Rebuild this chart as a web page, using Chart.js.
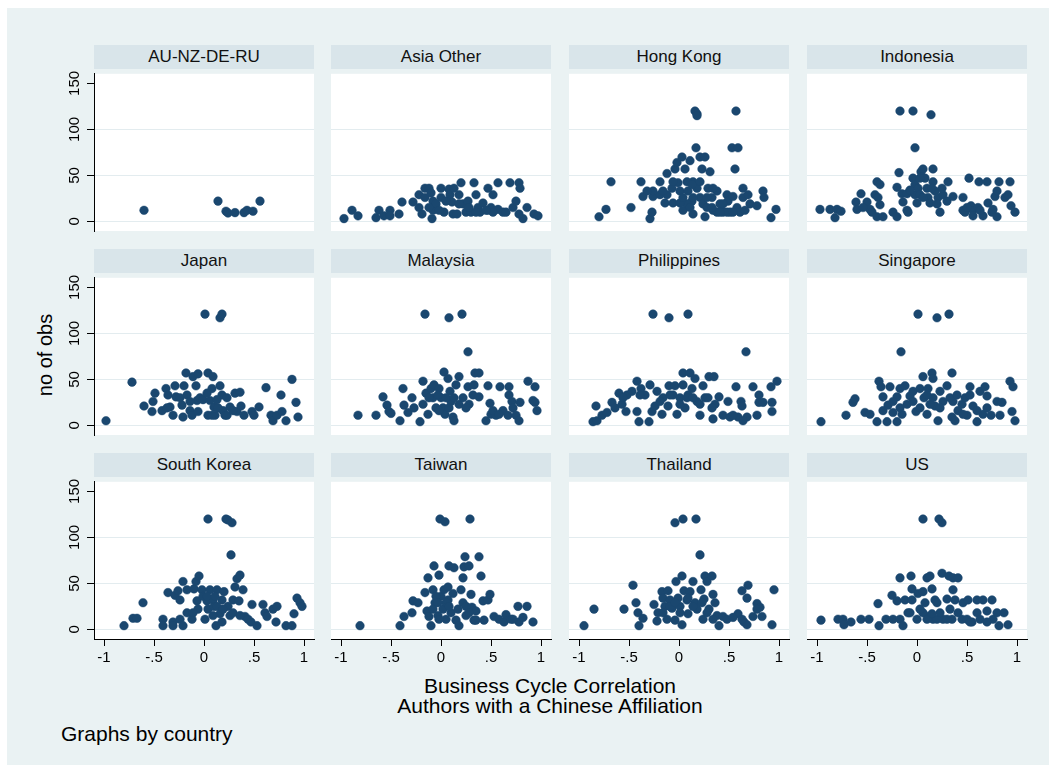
<!DOCTYPE html>
<html>
<head>
<meta charset="utf-8">
<script src="https://cdn.jsdelivr.net/npm/chart.js@4.4.1/dist/chart.umd.min.js"></script>
<style>
    body { margin: 0; width: 1056px; height: 771px; background: #fff; position: relative; overflow: hidden;
           font-family: "Liberation Sans", Arial, sans-serif; color: #000; }
    #frame { position: absolute; left: 7px; top: 8px; width: 1042px; height: 757px; background: #eaf2f3; }
    .strip { position: absolute; height: 24px; line-height: 24px; background: #d9e5ea; text-align: center;
             font-size: 17px; color: #111; }
    canvas { position: absolute; }
    .lbl { position: absolute; white-space: nowrap; font-size: 21px; }
</style>
</head>
<body>
<div id="frame"></div>
<div class="lbl" style="left:0;width:1100px;top:676px;text-align:center;line-height:20px">Business Cycle Correlation<br>Authors with a Chinese Affiliation</div>
<div class="lbl" style="left:61px;top:722px">Graphs by country</div>
<div class="lbl" style="left:45px;top:355px;font-size:20px;transform:translate(-50%,-50%) rotate(-90deg)">no of obs</div>
<script>
// tick values
const xTicks = [-1, -0.5, 0, 0.5, 1];
const yTicks = [0, 50, 100, 150];

const countries = ['AU-NZ-DE-RU', 'Asia Other', 'Hong Kong', 'Indonesia',
                   'Japan', 'Malaysia', 'Philippines', 'Singapore',
                   'South Korea', 'Taiwan', 'Thailand', 'US'];

// [correlation, no of obs] per country
const auNzDeRu = [[-0.60,12],[0.14,22],[0.22,11],[0.24,9],[0.31,9.5],[0.40,9.5],[0.43,12],[0.49,11],[0.56,22]];

const asiaOther = [[-0.97,3],[-0.89,12],[-0.83,6],[-0.65,4],[-0.62,12],[-0.57,6],[-0.51,12],[-0.51,6],[-0.42,8],
    [-0.39,21],[-0.28,21],[-0.22,29],[-0.22,15],[-0.19,8],[-0.16,36],[-0.16,26],[-0.12,36],[-0.10,31],[-0.08,22],
    [-0.08,12],[-0.09,3],[-0.05,19],[0,36],[0,26],[0.03,10],[0.08,35],[0.09,29],[0.11,21],[0.12,8],[0.13,36],
    [0.16,8],[0.18,29],[0.20,42],[0.22,19],[0.25,10],[0.27,22],[0.30,10],[0.33,42],[0.35,29],[0.37,15],[0.39,10],
    [0.42,20],[0.47,36],[0.47,12],[0.50,15],[0.52,29],[0.57,42],[0.57,13],[0.62,10],[0.69,42],[0.72,15],[0.75,22],
    [0.78,42],[0.79,36],[0.82,3],[0.86,15],[0.93,8],[0.97,6],[0.28,15],[0.35,10],[0.52,10],[0.65,10],[0.78,8],
    [-0.02,12],[-0.12,15],[0.18,19],[0.05,22],[0.45,12]];

const hongKong = [[-0.80,5],[-0.73,13],[-0.68,43],[-0.48,15],[-0.38,43],[-0.36,27],[-0.29,3],[-0.27,10],[-0.26,27],
    [-0.19,43],[-0.19,29],[-0.14,20],[-0.12,52],[-0.07,36],[-0.06,20],[-0.04,57],[-0.02,64],[-0.01,42],[0.01,33],
    [0.03,70],[0.04,12],[0.06,57],[0.09,33],[0.11,66],[0.13,22],[0.14,8],[0.16,120],[0.18,117],[0.18,115],[0.17,80],
    [0.21,70],[0.26,70],[0.23,57],[0.14,43],[0.18,36],[0.21,26],[0.24,19],[0.26,5],[0.29,36],[0.31,54],[0.33,26],
    [0.34,12],[0.38,33],[0.41,19],[0.44,10],[0.48,29],[0.49,22],[0.54,27],[0.56,57],[0.57,120],[0.53,80],[0.59,80],
    [0.58,15],[0.61,10],[0.64,36],[0.64,26],[0.69,29],[0.71,19],[0.78,17],[0.84,33],[0.85,26],[0.92,4],[0.97,13],
    [0.08,43],[0.08,19],[-0.12,29],[-0.06,43],[0.01,20],[0.13,40],[0.28,15],[0.34,36],[0.38,10],[0.44,19],[0.51,10],
    [0.66,12],[-0.26,33],[-0.32,33],[-0.16,33],[0.04,26],[0.21,43],[0.28,26],[0.33,15],[0.48,10],[0.54,10],[0.41,10],
    [0.14,26],[0.11,15]];

const indonesia = [[-0.97,13],[-0.87,13],[-0.82,4],[-0.80,13],[-0.76,11],[-0.61,21],[-0.60,13],[-0.56,30],[-0.50,21],
    [-0.47,13],[-0.45,10],[-0.42,29],[-0.40,43],[-0.37,40],[-0.39,26],[-0.37,18],[-0.40,5],[-0.34,5],[-0.24,10],
    [-0.20,5],[-0.20,37],[-0.18,53],[-0.17,120],[-0.04,120],[0.14,116],[-0.02,80],[-0.15,30],[-0.10,30],[-0.14,21],
    [-0.10,12],[-0.09,10],[-0.04,47],[-0.02,40],[-0.02,29],[0,20],[0.01,36],[0.04,54],[0.06,57],[0.08,47],[0.10,36],
    [0.11,26],[0.13,20],[0.16,57],[0.16,43],[0.18,33],[0.21,26],[0.23,10],[0.26,29],[0.30,22],[0.31,43],[0.36,27],
    [0.46,26],[0.46,12],[0.48,10],[0.52,47],[0.54,17],[0.56,12],[0.56,6],[0.62,43],[0.61,15],[0.66,6],[0.70,43],
    [0.71,20],[0.75,10],[0.78,27],[0.80,33],[0.80,5],[0.82,43],[0.88,26],[0.91,29],[0.93,43],[0.94,17],[0.98,10],
    [0.03,29],[0.06,26],[0.15,36],[0.25,36],[-0.07,34],[0.03,47],[0.20,19],[0.50,15],[0.63,12],[0.76,13],[-0.54,15]];

const japan = [[-0.98,5],[-0.72,47],[-0.60,21],[-0.52,15],[-0.51,26],[-0.49,35],[-0.42,16],[-0.38,40],[-0.36,33],
    [-0.34,20],[-0.31,11],[-0.29,43],[-0.28,31],[-0.22,22],[-0.21,9],[-0.20,43],[-0.18,57],[-0.17,33],[-0.14,16],
    [-0.12,11],[-0.11,53],[-0.08,43],[-0.07,27],[-0.06,56],[-0.06,15],[-0.04,30],[0.01,121],[-0.01,28],[0.04,57],
    [0.04,11],[0.06,27],[0.08,40],[0.09,53],[0.10,20],[0.11,11],[0.16,43],[0.16,117],[0.18,121],[0.18,33],[0.19,16],
    [0.21,11],[0.23,30],[0.26,20],[0.31,35],[0.33,15],[0.36,36],[0.37,21],[0.40,11],[0.48,15],[0.50,11],[0.55,20],
    [0.62,41],[0.67,11],[0.69,5],[0.73,11],[0.77,33],[0.78,15],[0.82,5],[0.88,50],[0.92,25],[0.94,9],[0.13,28],
    [0.03,35],[-0.14,26],[-0.24,30],[-0.37,19],[0.14,19],[0.08,11],[0.23,11],[0.29,16]];

const malaysia = [[-0.83,11],[-0.65,11],[-0.58,31],[-0.54,22],[-0.52,15],[-0.50,13],[-0.41,5],[-0.38,40],[-0.37,22],
    [-0.33,14],[-0.29,30],[-0.27,19],[-0.21,4],[-0.18,48],[-0.18,23],[-0.16,121],[-0.15,35],[-0.13,12],[-0.10,40],
    [-0.08,30],[-0.07,44],[-0.05,19],[-0.02,40],[0,30],[0.02,19],[0.03,58],[0.04,12],[0.07,51],[0.08,117],[0.09,37],
    [0.10,26],[0.12,9],[0.13,5],[0.15,44],[0.18,53],[0.18,23],[0.21,121],[0.27,80],[0.27,42],[0.28,23],[0.32,33],
    [0.33,44],[0.34,57],[0.38,57],[0.38,31],[0.45,5],[0.47,43],[0.49,24],[0.50,12],[0.55,11],[0.59,42],[0.62,16],
    [0.67,11],[0.68,42],[0.68,33],[0.71,26],[0.72,19],[0.75,11],[0.78,5],[0.79,25],[0.87,48],[0.92,27],[0.94,42],
    [0.94,25],[0.96,16],[-0.12,30],[-0.03,33],[0.05,30],[0.08,19],[0.13,30],[0.22,30],[-0.02,16],[0.25,19],[0.52,16],
    [0.58,12]];

const philippines = [[-0.86,4],[-0.83,21],[-0.82,5],[-0.77,11],[-0.72,14],[-0.67,25],[-0.64,19],[-0.60,35],[-0.57,23],
    [-0.53,15],[-0.52,33],[-0.47,37],[-0.42,48],[-0.42,15],[-0.40,4],[-0.38,40],[-0.34,33],[-0.30,4],[-0.29,44],
    [-0.27,15],[-0.26,121],[-0.24,21],[-0.22,37],[-0.17,12],[-0.16,30],[-0.11,21],[-0.10,43],[-0.10,117],[-0.06,33],
    [-0.04,43],[-0.02,12],[0.01,30],[0.04,57],[0.04,44],[0.06,19],[0.09,121],[0.09,33],[0.11,57],[0.13,40],[0.16,51],
    [0.18,26],[0.21,11],[0.24,43],[0.26,30],[0.30,53],[0.34,7],[0.35,53],[0.36,23],[0.40,31],[0.44,11],[0.49,26],
    [0.51,9],[0.57,42],[0.59,9],[0.62,26],[0.63,21],[0.67,80],[0.68,9],[0.74,42],[0.78,11],[0.80,33],[0.80,25],
    [0.84,25],[0.92,42],[0.93,25],[0.93,15],[0.98,48],[-0.09,33],[0.01,23],[0.08,30],[0.14,30],[0.21,23],[0.29,30],
    [0.33,19],[0.54,11],[0.64,5],[-0.19,26],[-0.39,33],[-0.56,30]];

const singapore = [[-0.96,4],[-0.71,11],[-0.64,25],[-0.62,29],[-0.52,14],[-0.47,12],[-0.40,4],[-0.38,48],[-0.36,42],
    [-0.34,16],[-0.34,31],[-0.30,4],[-0.29,22],[-0.27,42],[-0.24,14],[-0.20,4],[-0.20,31],[-0.17,40],[-0.16,80],
    [-0.15,12],[-0.12,43],[-0.10,23],[-0.07,32],[-0.04,37],[-0.01,15],[0.01,121],[0.03,40],[0.06,53],[0.07,30],
    [0.10,12],[0.11,40],[0.15,57],[0.16,51],[0.16,30],[0.18,21],[0.20,117],[0.21,5],[0.23,37],[0.26,26],[0.30,43],
    [0.32,121],[0.35,57],[0.35,9],[0.36,26],[0.38,5],[0.41,16],[0.45,23],[0.48,30],[0.50,11],[0.53,42],[0.53,33],
    [0.56,21],[0.60,4],[0.63,37],[0.66,12],[0.68,42],[0.70,32],[0.74,11],[0.80,26],[0.83,11],[0.85,25],[0.93,48],
    [0.95,15],[0.96,42],[0.98,5],[-0.04,26],[0.03,19],[0.10,33],[0.13,23],[0.23,19],[0.33,30],[0.40,33],[0.46,12],
    [0.60,16],[0.70,19],[-0.17,19],[-0.24,26]];

const southKorea = [[-0.80,4],[-0.71,12],[-0.67,12],[-0.61,29],[-0.41,11],[-0.41,4],[-0.36,40],[-0.31,8],[-0.31,4],
    [-0.29,37],[-0.26,42],[-0.24,32],[-0.24,11],[-0.21,52],[-0.21,4],[-0.17,43],[-0.17,18],[-0.12,11],[-0.10,44],
    [-0.08,52],[-0.07,31],[-0.05,58],[-0.06,22],[-0.02,43],[0.01,11],[0.03,31],[0.04,120],[0.04,22],[0.06,43],
    [0.09,32],[0.10,25],[0.12,4],[0.13,43],[0.16,17],[0.18,32],[0.20,41],[0.22,120],[0.24,119],[0.28,116],[0.27,81],
    [0.24,25],[0.26,15],[0.29,32],[0.31,46],[0.33,55],[0.36,59],[0.35,31],[0.39,43],[0.41,14],[0.44,11],[0.47,8],
    [0.48,27],[0.53,4],[0.59,27],[0.61,18],[0.63,14],[0.69,22],[0.72,8],[0.73,25],[0.82,4],[0.88,4],[0.90,17],
    [0.93,34],[0.96,29],[0.98,25],[-0.01,36],[0.13,25],[0.09,15],[0.19,22],[0.29,18],[0.36,15],[0.18,8],[-0.11,18],
    [0.03,36],[0.11,36]];

const taiwan = [[-0.81,4],[-0.41,4],[-0.37,14],[-0.29,18],[-0.28,31],[-0.23,29],[-0.16,40],[-0.14,20],[-0.13,56],
    [-0.12,14],[-0.10,4],[-0.08,43],[-0.07,69],[-0.06,29],[-0.03,15],[-0.02,59],[-0.01,120],[0,36],[0.02,22],
    [0.03,43],[0.04,117],[0.05,11],[0.07,32],[0.08,69],[0.10,18],[0.13,67],[0.15,10],[0.18,4],[0.20,43],[0.22,29],
    [0.22,56],[0.23,68],[0.24,79],[0.25,15],[0.28,69],[0.29,120],[0.30,38],[0.31,24],[0.33,10],[0.35,20],[0.38,79],
    [0.40,58],[0.42,31],[0.43,10],[0.47,32],[0.49,38],[0.53,14],[0.58,11],[0.63,8],[0.65,16],[0.70,11],[0.77,25],
    [0.78,8],[0.86,25],[0.92,8],[-0.05,36],[0.05,29],[0.12,39],[0.17,22],[0.08,25],[0.25,25],[0.28,18],[0.35,10],
    [-0.08,22],[-0.03,29],[0.07,46],[-0.02,11],[0.72,11],[0.82,13]];

const thailand = [[-0.95,4],[-0.85,22],[-0.55,22],[-0.46,48],[-0.43,29],[-0.41,18],[-0.40,4],[-0.36,12],[-0.25,27],
    [-0.22,9],[-0.21,18],[-0.17,41],[-0.16,34],[-0.14,25],[-0.12,11],[-0.11,42],[-0.09,32],[-0.07,23],[-0.04,116],
    [-0.04,10],[-0.03,52],[-0.01,34],[0.01,25],[0.03,58],[0.03,5],[0.04,120],[0.05,42],[0.08,32],[0.09,17],[0.11,41],
    [0.14,52],[0.16,29],[0.17,120],[0.18,22],[0.21,81],[0.22,43],[0.24,11],[0.25,33],[0.26,58],[0.28,52],[0.30,22],
    [0.33,58],[0.34,38],[0.36,29],[0.38,15],[0.40,4],[0.44,14],[0.48,11],[0.59,17],[0.63,42],[0.65,8],[0.68,34],
    [0.69,48],[0.68,5],[0.74,14],[0.78,28],[0.81,24],[0.83,14],[0.93,5],[0.95,43],[-0.09,25],[-0.04,29],[0.09,34],
    [0.14,25],[0.23,29],[0.28,18],[0.34,11],[0.54,13],[0.63,11],[0.78,22],[-0.16,18],[0.01,18]];

const us = [[-0.96,10],[-0.79,11],[-0.74,11],[-0.73,5],[-0.66,8],[-0.56,11],[-0.48,11],[-0.39,28],[-0.38,4],[-0.31,11],
    [-0.24,11],[-0.25,37],[-0.20,31],[-0.17,56],[-0.17,11],[-0.14,4],[-0.12,32],[-0.09,18],[-0.06,58],[-0.05,44],
    [-0.05,32],[0,11],[0.01,39],[0.06,120],[0.06,41],[0.08,29],[0.10,56],[0.11,14],[0.13,58],[0.15,44],[0.16,11],
    [0.18,32],[0.20,29],[0.22,120],[0.25,116],[0.25,61],[0.26,11],[0.30,33],[0.32,58],[0.35,11],[0.36,56],[0.36,43],
    [0.38,32],[0.41,56],[0.41,18],[0.45,11],[0.46,29],[0.51,32],[0.55,8],[0.60,18],[0.60,32],[0.63,11],[0.66,32],
    [0.70,20],[0.75,32],[0.76,11],[0.80,18],[0.82,4],[0.87,18],[0.91,5],[0.06,18],[0.10,11],[0.20,11],[0.23,18],
    [0.30,11],[0.33,22],[0.50,11],[0.53,8],[0.70,8],[-0.07,18],[0.03,22],[0.15,17]];

const panelData = [auNzDeRu, asiaOther, hongKong, indonesia, japan, malaysia,
                   philippines, singapore, southKorea, taiwan, thailand, us];

const NAVY = '#1a476f';
const GRID = '#e3ecef';
const FONT = '"Liberation Sans", Arial, sans-serif';
Chart.defaults.font.family = FONT;

// panel geometry
const colLeft = [94, 331, 569, 807];
const rowTop = [45, 249, 453];
const PW = 220, PH = 162, SH = 24, PADL = 50, PADB = 40, PADR = 10;

function fmtX(v) {
    if (v === 0) return '0';
    const s = String(Math.abs(v)).replace(/^0/, '');
    return (v < 0 ? '-' : '') + s;
}

// white plot region
const plotBg = {
    id: 'plotBg',
    beforeDraw(chart) {
        const a = chart.chartArea, ctx = chart.ctx;
        ctx.save();
        ctx.fillStyle = '#fff';
        ctx.fillRect(a.left, a.top, a.right - a.left, a.bottom - a.top);
        ctx.restore();
    }
};

// vertical y tick labels, Stata style
const yLabels = {
    id: 'yLabels',
    afterDraw(chart) {
        const s = chart.scales.y, ctx = chart.ctx;
        ctx.save();
        ctx.fillStyle = '#000';
        ctx.font = '15px ' + FONT;
        ctx.textAlign = 'center';
        ctx.textBaseline = 'bottom';
        yTicks.forEach(v => {
            ctx.save();
            ctx.translate(chart.chartArea.left - 12, s.getPixelForValue(v));
            ctx.rotate(-Math.PI / 2);
            ctx.fillText(String(v), 0, 0);
            ctx.restore();
        });
        ctx.restore();
    }
};

countries.forEach((name, i) => {
    const col = i % 4, row = Math.floor(i / 4);
    const bottomRow = row === 2;

    const strip = document.createElement('div');
    strip.className = 'strip';
    strip.style.left = colLeft[col] + 'px';
    strip.style.top = rowTop[row] + 'px';
    strip.style.width = PW + 'px';
    strip.textContent = name;
    document.body.appendChild(strip);

    const cv = document.createElement('canvas');
    cv.width = PW + PADL + PADR;
    cv.height = PH + PADB;
    cv.style.left = (colLeft[col] - PADL) + 'px';
    cv.style.top = (rowTop[row] + SH) + 'px';
    document.body.appendChild(cv);

    const plugins = [plotBg];
    if (col === 0) plugins.push(yLabels);

    new Chart(cv, {
        type: 'scatter',
        data: {
            datasets: [{
                data: panelData[i].map(p => ({ x: p[0], y: p[1] })),
                backgroundColor: NAVY,
                borderColor: NAVY,
                borderWidth: 0.5,
                pointRadius: 4.3
            }]
        },
        options: {
            responsive: false,
            animation: false,
            events: [],
            layout: { padding: { left: col === 0 ? 0 : PADL, right: PADR, top: 0, bottom: 0 } },
            plugins: { legend: { display: false }, tooltip: { enabled: false } },
            scales: {
                x: {
                    type: 'linear',
                    min: -1.1,
                    max: 1.1,
                    afterBuildTicks: s => { s.ticks = xTicks.map(v => ({ value: v })); },
                    afterFit: s => { s.height = PADB; },
                    grid: { display: bottomRow, drawOnChartArea: false, drawTicks: true, tickLength: 7,
                            color: '#000', tickColor: '#000' },
                    border: { display: bottomRow, color: '#000', width: 1 },
                    ticks: { display: bottomRow, color: '#000', font: { size: 15 }, padding: 3, autoSkip: false,
                             maxRotation: 0, callback: v => fmtX(v) }
                },
                y: {
                    type: 'linear',
                    min: -10.5,
                    max: 160.5,
                    afterBuildTicks: s => { s.ticks = yTicks.map(v => ({ value: v })); },
                    afterFit: s => { s.width = col === 0 ? PADL : 0; },
                    grid: {
                        color: c => (c.tick && c.tick.value === 150) ? 'rgba(0,0,0,0)' : GRID,
                        drawTicks: col === 0,
                        tickLength: 7,
                        tickColor: '#000'
                    },
                    border: { display: col === 0, color: '#000', width: 1 },
                    ticks: { display: false }
                }
            }
        },
        plugins: plugins
    });
});
</script>
</body>
</html>
